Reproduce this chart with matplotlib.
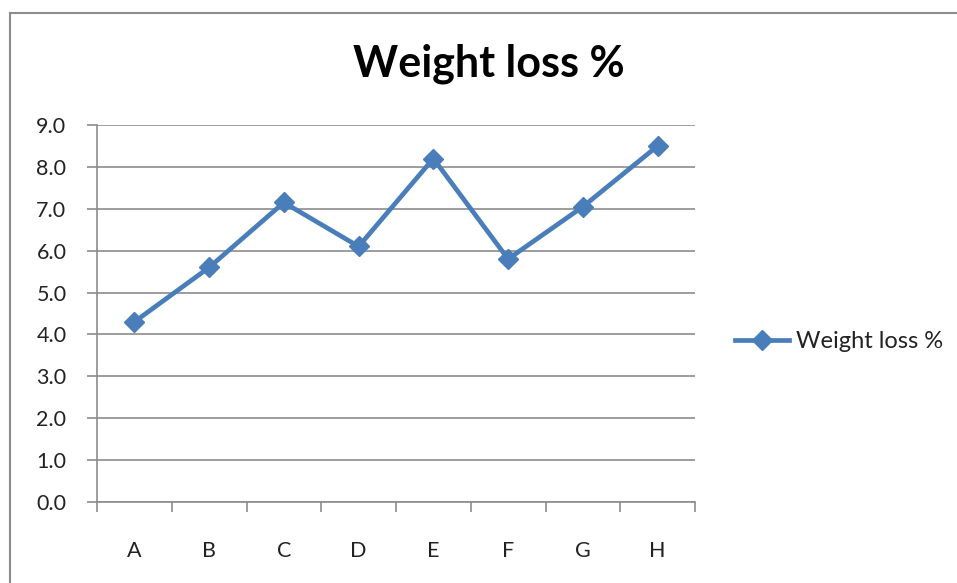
import matplotlib
matplotlib.use("Agg")
import matplotlib.pyplot as plt
from matplotlib.lines import Line2D

categories = ["A", "B", "C", "D", "E", "F", "G", "H"]
values = [4.3, 5.6, 7.15, 6.1, 8.2, 5.8, 7.05, 8.5]
yticks = [0.0, 1.0, 2.0, 3.0, 4.0, 5.0, 6.0, 7.0, 8.0, 9.0]
series_name = "Weight loss %"
title = "Weight loss %"

plt.rcParams['font.family'] = ['Lato', 'DejaVu Sans']

W, H = 957, 583
fig = plt.figure(figsize=(W / 100, H / 100), dpi=100)
ax = fig.add_axes([97 / W, 1 - 502 / H, (695 - 97) / W, (502 - 125) / H])

color = "#4A7EBB"
grid_c = "#8C8C8C"
x = list(range(len(categories)))
ax.plot(x, values, color=color, lw=3.4, marker="D", markersize=10,
        markerfacecolor=color, markeredgecolor=color, label=series_name, zorder=3)

ax.set_xlim(-0.5, len(categories) - 0.5)
ax.set_ylim(0, 9)
ax.set_yticks(yticks)
ax.set_yticklabels([f"{v:.1f}" for v in yticks], fontsize=15.5, color="#222222")
ax.yaxis.grid(True, color=grid_c, lw=1.2)
ax.set_axisbelow(True)

ax.set_xticks(x)
ax.set_xticklabels(categories, fontsize=15.5, color="#222222")
ax.tick_params(axis="x", which="major", length=0, pad=28)
ax.set_xticks([i - 0.5 for i in range(len(categories) + 1)], minor=True)
ax.tick_params(axis="x", which="minor", length=7, color=grid_c, width=1.2, direction="out")
ax.tick_params(axis="y", length=7, color=grid_c, width=1.2, pad=15)

for s in ["top", "right"]:
    ax.spines[s].set_visible(False)
for s in ["left", "bottom"]:
    ax.spines[s].set_color(grid_c)
    ax.spines[s].set_linewidth(1.2)

fig.text(489 / W, 1 - 77 / H, title, ha="center", va="baseline",
         fontsize=31, fontweight="bold", color="black")

handle = Line2D([], [], color=color, lw=3.4, marker="D", markersize=10,
                markerfacecolor=color, markeredgecolor=color)
fig.legend([handle], [series_name], loc="center left",
           bbox_to_anchor=(723 / W, 1 - 342 / H), frameon=False,
           fontsize=17, handlelength=2.3, handletextpad=0.3, borderpad=0,
           labelcolor="#222222")

# outer chart frame (only top and left edges visible)
fig.add_artist(Line2D([10 / W, 1.0], [1 - 13 / H, 1 - 13 / H], color="#8C8C8C", lw=1.5))
fig.add_artist(Line2D([10 / W, 10 / W], [0.0, 1 - 13 / H], color="#8C8C8C", lw=1.5))

fig.savefig("out.png", dpi=100, facecolor="white")
